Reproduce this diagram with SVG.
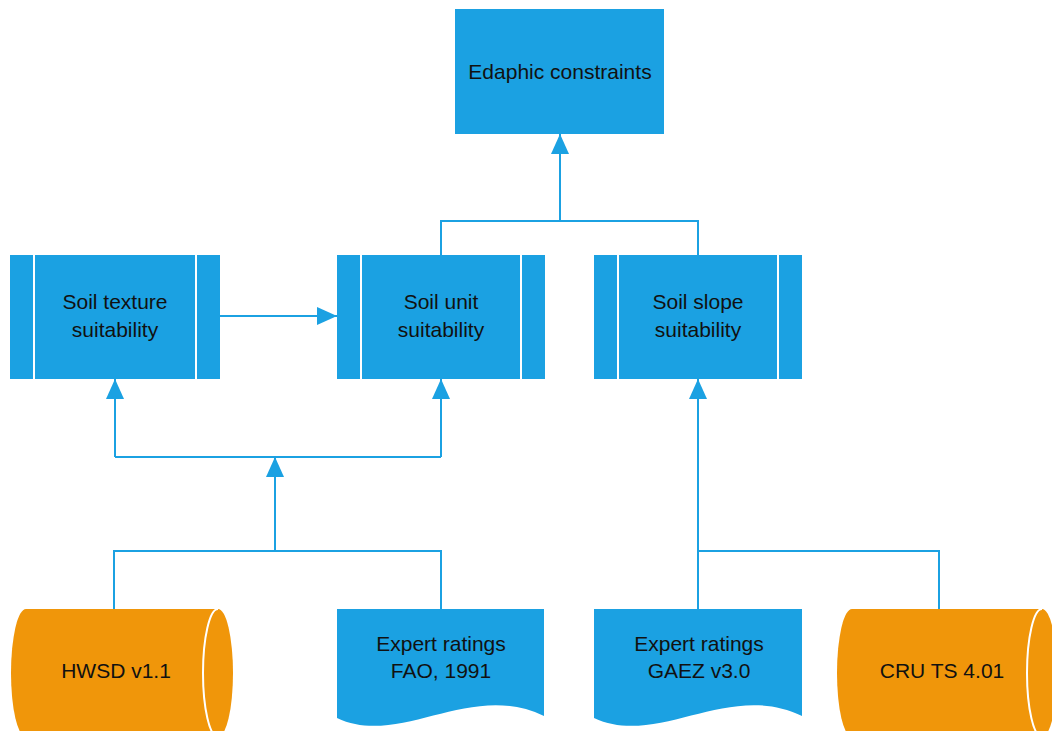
<svg xmlns="http://www.w3.org/2000/svg" width="1052" height="731" viewBox="0 0 1052 731">
<style>
.box{fill:#1ba1e2;}
.cyl{fill:#f0960a;}
.sep{stroke:#ffffff;stroke-width:2;fill:none;}
.lbl{font-family:"Liberation Sans",Arial,sans-serif;font-size:21px;fill:#111111;text-anchor:middle;}
.con{stroke:#1ba1e2;stroke-width:2;fill:none;}
.arr{stroke:#1ba1e2;stroke-width:2;fill:none;marker-end:url(#ah);}
</style>
<defs>
<marker id="ah" markerUnits="userSpaceOnUse" markerWidth="20" markerHeight="20" viewBox="0 0 20 20" refX="20" refY="10" orient="auto">
<path d="M0,1 L20,10 L0,19 Z" fill="#1ba1e2"/>
</marker>
</defs>
<rect width="1052" height="731" fill="#ffffff"/>
<g id="connectors">
<path class="con" d="M441,255 V221 H698 V255"/>
<path class="arr" d="M560,221 V134"/>
<path class="arr" d="M220,316 H337"/>
<path class="con" d="M115,457 H441"/>
<path class="arr" d="M115,457 V379"/>
<path class="arr" d="M441,457 V379"/>
<path class="con" d="M114,609 V551 H441 V609"/>
<path class="arr" d="M275,551 V457"/>
<path class="arr" d="M698,610 V379"/>
<path class="con" d="M698,551 H939 V609"/>
</g>
<g id="edaphic">
<rect class="box" x="455" y="9" width="209" height="125"/>
<text class="lbl" x="560" y="79">Edaphic constraints</text>
</g>
<g id="texture">
<rect class="box" x="10" y="255" width="210" height="124"/>
<path class="sep" d="M34,255 V379 M196,255 V379"/>
<text class="lbl" x="115" y="309">Soil texture</text>
<text class="lbl" x="115" y="337">suitability</text>
</g>
<g id="unit">
<rect class="box" x="337" y="255" width="208" height="124"/>
<path class="sep" d="M361,255 V379 M521,255 V379"/>
<text class="lbl" x="441" y="309">Soil unit</text>
<text class="lbl" x="441" y="337">suitability</text>
</g>
<g id="slope">
<rect class="box" x="594" y="255" width="208" height="124"/>
<path class="sep" d="M618,255 V379 M778,255 V379"/>
<text class="lbl" x="698" y="309">Soil slope</text>
<text class="lbl" x="698" y="337">suitability</text>
</g>
<g id="hwsd">
<path class="cyl" d="M26,609 H218 A15,64 0 0 1 218,737 H26 A15,64 0 0 1 26,609 Z"/>
<path class="sep" d="M218,609 A15,64 0 0 0 218,737"/>
<text class="lbl" x="116" y="678">HWSD v1.1</text>
</g>
<g id="fao">
<path class="box" d="M337,609 H544 V716 C470,680 400,748 337,718 Z"/>
<text class="lbl" x="441" y="651">Expert ratings</text>
<text class="lbl" x="441" y="678">FAO, 1991</text>
</g>
<g id="gaez">
<path class="box" d="M594,609 H802 V716 C728,680 658,748 594,718 Z"/>
<text class="lbl" x="699" y="651">Expert ratings</text>
<text class="lbl" x="699" y="678">GAEZ v3.0</text>
</g>
<g id="cru">
<path class="cyl" d="M852,609 H1042 A15,64 0 0 1 1042,737 H852 A15,64 0 0 1 852,609 Z"/>
<path class="sep" d="M1042,609 A15,64 0 0 0 1042,737"/>
<text class="lbl" x="942" y="678">CRU TS 4.01</text>
</g>
</svg>
